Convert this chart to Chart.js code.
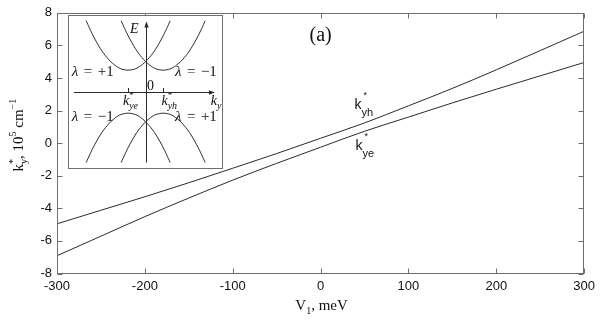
<!DOCTYPE html>
<html><head><meta charset="utf-8">
<script src="https://cdn.jsdelivr.net/npm/chart.js@4.4.1/dist/chart.umd.min.js"></script>
<style>
html,body{margin:0;padding:0;background:#fff;}
#wrap{position:relative;width:600px;height:321px;overflow:hidden;}
#main{position:absolute;left:0;top:0;}
#inset{position:absolute;left:68px;top:15px;}
</style>
</head><body>
<div id="wrap"><canvas id="main" width="600" height="321"></canvas><canvas id="inset" width="155" height="154"></canvas></div>
<script>
// ---------- main chart data ----------
const vValues = [-300,-250,-200,-150,-100,-50,0,50,100,150,200,250,300];
const kyh = [-4.95,-4.12,-3.29,-2.43,-1.54,-0.64,0.30,1.24,2.29,3.36,4.50,5.68,6.87];
const kye = [-6.91,-5.71,-4.51,-3.37,-2.27,-1.24,-0.25,0.73,1.60,2.47,3.31,4.13,4.95];
const xTicks = [-300,-200,-100,0,100,200,300];
const yTicks = [-8,-6,-4,-2,0,2,4,6,8];

// ---------- inset data (schematic dispersion) ----------
const insetKLeft  = [-3.4,-3.2,-3.0,-2.8,-2.6,-2.4,-2.2,-2.0,-1.8,-1.6,-1.4,-1.2,-1.0,-0.8,-0.6,-0.4,-0.2,0.0,0.2,0.4,0.6,0.8,1.0,1.2,1.4];
const insetKRight = [-1.4,-1.2,-1.0,-0.8,-0.6,-0.4,-0.2,0.0,0.2,0.4,0.6,0.8,1.0,1.2,1.4,1.6,1.8,2.0,2.2,2.4,2.6,2.8,3.0,3.2,3.4];
const insetUpper  = [3.30,2.94,2.60,2.30,2.02,1.78,1.58,1.40,1.26,1.14,1.06,1.02,1.00,1.02,1.06,1.14,1.26,1.40,1.58,1.78,2.02,2.30,2.60,2.94,3.30];
const insetLower  = [-3.30,-2.94,-2.60,-2.30,-2.02,-1.78,-1.58,-1.40,-1.26,-1.14,-1.06,-1.02,-1.00,-1.02,-1.06,-1.14,-1.26,-1.40,-1.58,-1.78,-2.02,-2.30,-2.60,-2.94,-3.30];

const serif = '"Liberation Serif","Times New Roman",serif';
const sans = '"Liberation Sans",Arial,Helvetica,sans-serif';
const frameColor = '#6e6e6e';
const lineColor = '#2a2a2a';

function pts(xs, ys){ return xs.map((v,i)=>({x:v,y:ys[i]})); }

function richWidth(ctx, segs){
  let w=0, pend=0;
  for(const s of segs){ ctx.font=s.f; const sw=ctx.measureText(s.t).width;
    if(s.stack){ pend=sw; continue; }
    w+=Math.max(sw,pend); pend=0; }
  return w;
}
function drawRich(ctx, segs, x, y, align){
  let cx = x;
  if(align==='center') cx = x - richWidth(ctx,segs)/2;
  let pend=0;
  ctx.textBaseline='alphabetic'; ctx.textAlign='left';
  for(const s of segs){
    ctx.font=s.f; const sw=ctx.measureText(s.t).width;
    ctx.fillText(s.t, cx+(s.dx||0), y+(s.dy||0));
    if(s.stack){ pend=sw; continue; }
    cx+=Math.max(sw,pend)+(s.gap||0); pend=0;
  }
}

const mainDeco = {
  id:'mainDeco',
  afterDatasetsDraw(chart){
    const {ctx, chartArea:a, scales:{x,y}} = chart;
    ctx.save();
    ctx.strokeStyle=frameColor; ctx.lineWidth=1;
    const L=Math.round(a.left)+0.5, R=Math.round(a.right)-0.5, T=Math.round(a.top)+0.5, B=Math.round(a.bottom)-0.5;
    ctx.strokeRect(L,T,R-L,B-T);
    const tl=5;
    ctx.beginPath();
    for(const v of xTicks){ const px=Math.round(x.getPixelForValue(v))+0.5;
      ctx.moveTo(px,B); ctx.lineTo(px,B-tl); ctx.moveTo(px,T); ctx.lineTo(px,T+tl); }
    for(const v of yTicks){ const py=Math.round(y.getPixelForValue(v))+0.5;
      ctx.moveTo(L,py); ctx.lineTo(L+tl,py); ctx.moveTo(R,py); ctx.lineTo(R-tl,py); }
    ctx.stroke();
    ctx.fillStyle='#111';
    ctx.font=`20px ${serif}`; ctx.textAlign='center'; ctx.textBaseline='alphabetic';
    ctx.fillText('(a)', x.getPixelForValue(0), y.getPixelForValue(6.27));
    drawRich(ctx,[{t:'k',f:`14px ${sans}`},{t:'*',f:`9px ${sans}`,dy:-11,dx:2,stack:true},{t:'yh',f:`11px ${sans}`,dy:7}],
      x.getPixelForValue(38.6), y.getPixelForValue(2.12));
    drawRich(ctx,[{t:'k',f:`14px ${sans}`},{t:'*',f:`9px ${sans}`,dy:-11,dx:2,stack:true},{t:'ye',f:`11px ${sans}`,dy:7}],
      x.getPixelForValue(39.8), y.getPixelForValue(-0.43));
    drawRich(ctx,[{t:'V',f:`15px ${serif}`},{t:'1',f:`10px ${serif}`,dy:4},{t:', meV',f:`15px ${serif}`}],
      (a.left+a.right)/2+1, 310, 'center');
    ctx.save();
    ctx.translate(23,(a.top+a.bottom)/2-8);
    ctx.rotate(-Math.PI/2);
    drawRich(ctx,[{t:'k',f:`15px ${serif}`},{t:'*',f:`10px ${serif}`,dy:-7,stack:true},{t:'y',f:`10px ${serif}`,dy:4},
      {t:', 10',f:`15px ${serif}`},{t:'5',f:`10px ${serif}`,dy:-7},{t:' cm',f:`15px ${serif}`},{t:'−1',f:`10px ${serif}`,dy:-7}],0,0,'center');
    ctx.restore();
    ctx.restore();
  }
};

new Chart(document.getElementById('main'),{
  type:'scatter',
  data:{datasets:[
    {label:'kyh',data:pts(vValues,kyh),showLine:true,borderColor:lineColor,borderWidth:1,pointRadius:0,cubicInterpolationMode:'monotone'},
    {label:'kye',data:pts(vValues,kye),showLine:true,borderColor:lineColor,borderWidth:1,pointRadius:0,cubicInterpolationMode:'monotone'}
  ]},
  options:{
    responsive:false,animation:false,devicePixelRatio:1,
    layout:{padding:{top:10,right:15,left:0,bottom:0}},
    plugins:{legend:{display:false},tooltip:{enabled:false}},
    scales:{
      x:{type:'linear',min:-300,max:300,
        afterBuildTicks:s=>{s.ticks=xTicks.map(v=>({value:v}));},
        afterFit:s=>{s.height=47.5;},
        grid:{display:false,drawTicks:false},border:{display:false},
        ticks:{font:{family:sans,size:13},color:'#111',padding:5,maxRotation:0,autoSkip:false,callback:v=>String(v)}},
      y:{type:'linear',min:-8,max:8,
        afterBuildTicks:s=>{s.ticks=yTicks.map(v=>({value:v}));},
        afterFit:s=>{s.width=57;},
        grid:{display:false,drawTicks:false},border:{display:false},
        ticks:{font:{family:sans,size:13},color:'#111',padding:5,autoSkip:false,callback:v=>String(v)}}
    }
  },
  plugins:[mainDeco]
});

// ---------- inset ----------
const insetDeco = {
  id:'insetDeco',
  beforeDraw(chart){
    const {ctx}=chart; ctx.save(); ctx.fillStyle='#fff'; ctx.fillRect(0,0,chart.width,chart.height); ctx.restore();
  },
  beforeDatasetsDraw(chart){
    const {ctx, scales:{x,y}} = chart;
    ctx.save();
    ctx.strokeStyle=lineColor; ctx.fillStyle=lineColor; ctx.lineWidth=1;
    const y0=Math.round(y.getPixelForValue(0))+0.5, x0=Math.round(x.getPixelForValue(0))+0.5;
    const xl=x.getPixelForValue(-4.1), xr=x.getPixelForValue(3.96);
    const yt=y.getPixelForValue(3.27), yb=y.getPixelForValue(-3.3);
    ctx.beginPath();
    ctx.moveTo(xl,y0); ctx.lineTo(xr-3,y0);
    ctx.moveTo(x0,yb); ctx.lineTo(x0,yt+3);
    for(const k of [-1,1]){ const px=Math.round(x.getPixelForValue(k))+0.5;
      ctx.moveTo(px,y.getPixelForValue(0.17)); ctx.lineTo(px,y.getPixelForValue(-0.06)); }
    ctx.stroke();
    ctx.beginPath(); ctx.moveTo(xr,y0); ctx.lineTo(xr-6,y0-2.2); ctx.lineTo(xr-6,y0+2.2); ctx.closePath(); ctx.fill();
    ctx.beginPath(); ctx.moveTo(x0,yt); ctx.lineTo(x0-2.2,yt+6); ctx.lineTo(x0+2.2,yt+6); ctx.closePath(); ctx.fill();
    ctx.restore();
  },
  afterDatasetsDraw(chart){
    const {ctx, scales:{x,y}} = chart;
    ctx.save();
    ctx.fillStyle='#111';
    const it=`italic 15px ${serif}`, up=`15px ${serif}`;
    const lam=(sign,k,e)=>drawRich(ctx,[{t:'λ',f:it,gap:1.5},{t:'=',f:up,gap:4},{t:sign+'1',f:up}],x.getPixelForValue(k)+0,y.getPixelForValue(e),'left');
    const lamS=(sign,k,e)=>{ const px=x.getPixelForValue(k), py=y.getPixelForValue(e);
      ctx.font=it; ctx.textAlign='left'; ctx.textBaseline='alphabetic'; ctx.fillText('λ',px,py);
      ctx.font=up; ctx.fillText('=',px+12,py); ctx.fillText(sign+'1',px+26,py); };
    lamS('+',-4.23,0.72); lamS('−',1.67,0.72);
    lamS('−',-4.23,-1.36); lamS('+',1.67,-1.36);
    drawRich(ctx,[{t:'E',f:`italic 14px ${serif}`}],x.getPixelForValue(-0.9),y.getPixelForValue(2.75));
    drawRich(ctx,[{t:'0',f:`14px ${serif}`}],x.getPixelForValue(0.08),y.getPixelForValue(0.08));
    const ks=(sub,k)=>drawRich(ctx,[{t:'k',f:`italic 14px ${serif}`},{t:'*',f:`9px ${serif}`,dy:-7,stack:true},{t:sub,f:`italic 10px ${serif}`,dy:4}],x.getPixelForValue(k),y.getPixelForValue(-0.62));
    ks('ye',-1.3); ks('yh',0.9);
    drawRich(ctx,[{t:'k',f:`italic 14px ${serif}`},{t:'y',f:`italic 10px ${serif}`,dy:4}],x.getPixelForValue(3.72),y.getPixelForValue(-0.62));
    ctx.strokeStyle=frameColor; ctx.lineWidth=1;
    ctx.strokeRect(0.5,0.5,chart.width-1,chart.height-1);
    ctx.restore();
  }
};

const insetStyle = {showLine:true,borderColor:lineColor,borderWidth:1,pointRadius:0,tension:0.4};
new Chart(document.getElementById('inset'),{
  type:'scatter',
  data:{datasets:[
    Object.assign({data:pts(insetKLeft,insetUpper)},insetStyle),
    Object.assign({data:pts(insetKRight,insetUpper)},insetStyle),
    Object.assign({data:pts(insetKLeft,insetLower)},insetStyle),
    Object.assign({data:pts(insetKRight,insetLower)},insetStyle)
  ]},
  options:{
    responsive:false,animation:false,devicePixelRatio:1,
    layout:{padding:0},
    plugins:{legend:{display:false},tooltip:{enabled:false}},
    scales:{
      x:{type:'linear',min:-4.44,max:4.42,display:false},
      y:{type:'linear',min:-3.6,max:3.57,display:false}
    }
  },
  plugins:[insetDeco]
});
</script>
</body></html>
